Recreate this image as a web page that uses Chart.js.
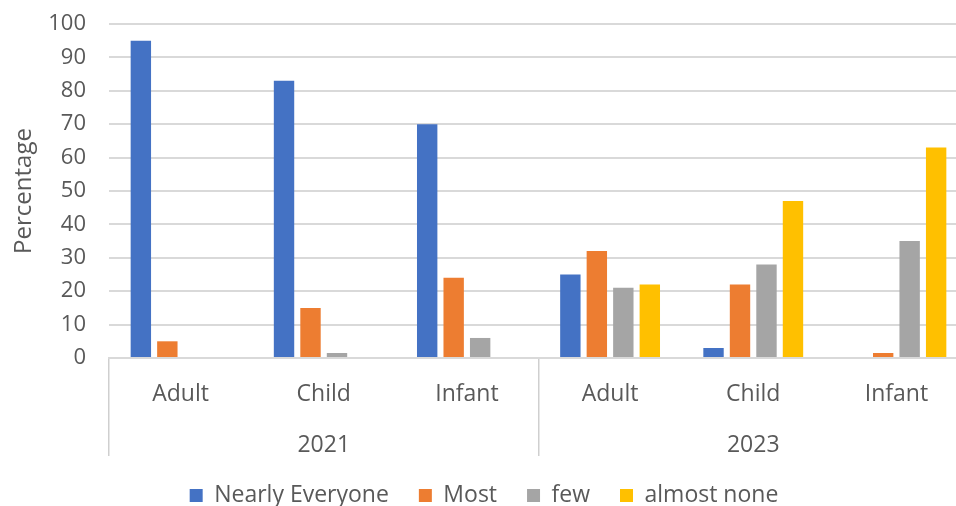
<!DOCTYPE html>
<html>
<head>
<meta charset="utf-8">
<script src="https://cdn.jsdelivr.net/npm/chart.js@4.4.1/dist/chart.umd.min.js"></script>
<style>
  html, body { margin: 0; padding: 0; background: #ffffff; overflow: hidden; }
  #wrap { width: 968px; height: 506px; position: relative; }
</style>
</head>
<body>
<div id="wrap"><canvas id="c"></canvas></div>
<script>
const categories = ['Adult', 'Child', 'Infant', 'Adult', 'Child', 'Infant'];
const years = ['2021', '2023'];
const nearlyEveryone = [95, 83, 70, 25, 3, 0];
const most = [5, 15, 24, 32, 22, 1.5];
const few = [0, 1.5, 6, 21, 28, 35];
const almostNone = [0, 0, 0, 22, 47, 63];
const yTicks = { min: 0, max: 100, step: 10 };

const FONT = '"Open Sans", sans-serif';
const TXT = '#595959';
const GRID = '#d9d9d9';
const SEP = '#cfcfcf';

function ds(label, data, color) {
  return {
    label, data,
    backgroundColor: color,
    borderWidth: 0,
    categoryPercentage: 0.74,
    barPercentage: 0.77
  };
}

new Chart(document.getElementById('c'), {
  type: 'bar',
  data: {
    labels: categories,
    datasets: [
      ds('Nearly Everyone', nearlyEveryone, '#4472C4'),
      ds('Most', most, '#ED7D31'),
      ds('few', few, '#A5A5A5'),
      ds('almost none', almostNone, '#FFC000')
    ]
  },
  options: {
    responsive: true,
    maintainAspectRatio: false,
    animation: false,
    layout: { padding: { top: 24, right: 0, bottom: -11, left: 0 } },
    plugins: {
      tooltip: { enabled: false },
      legend: {
        position: 'bottom',
        labels: {
          boxWidth: 13, boxHeight: 13,
          color: TXT,
          font: { family: FONT, size: 23 },
          padding: 30
        }
      }
    },
    scales: {
      y: {
        min: yTicks.min, max: yTicks.max,
        ticks: { stepSize: yTicks.step, color: TXT, font: { family: FONT, size: 22 }, padding: 23 },
        grid: { color: GRID, lineWidth: 2, drawTicks: false },
        border: { display: false },
        title: { display: true, text: 'Percentage', color: TXT, font: { family: FONT, size: 24 }, padding: { top: 10, bottom: 0 } },
        afterFit: (s) => { s.width = 109; s.paddingTop = 0; s.paddingBottom = 0; }
      },
      x: {
        type: 'category',
        position: 'bottom',
        weight: 0,
        offset: true,
        grid: {
          offset: true,
          drawOnChartArea: false,
          tickLength: 50,
          lineWidth: 1.5,
          color: (ctx) => (ctx.index === 0 || ctx.index === 3 || ctx.index === 6) ? SEP : 'rgba(0,0,0,0)'
        },
        border: { display: true, color: GRID, width: 2 },
        ticks: { color: TXT, font: { family: FONT, size: 23 }, padding: -27, maxRotation: 0, autoSkip: false },
        afterFit: (s) => { s.height = 50; }
      },
      x2: {
        type: 'category',
        axis: 'x',
        position: 'bottom',
        weight: 1,
        labels: years,
        offset: true,
        grid: {
          offset: true,
          drawOnChartArea: false,
          tickLength: 48,
          lineWidth: 1.5,
          color: SEP
        },
        border: { display: false },
        ticks: { color: TXT, font: { family: FONT, size: 23 }, padding: -24, maxRotation: 0, autoSkip: false },
        afterFit: (s) => { s.height = 46; }
      }
    }
  }
});
</script>
</body>
</html>
